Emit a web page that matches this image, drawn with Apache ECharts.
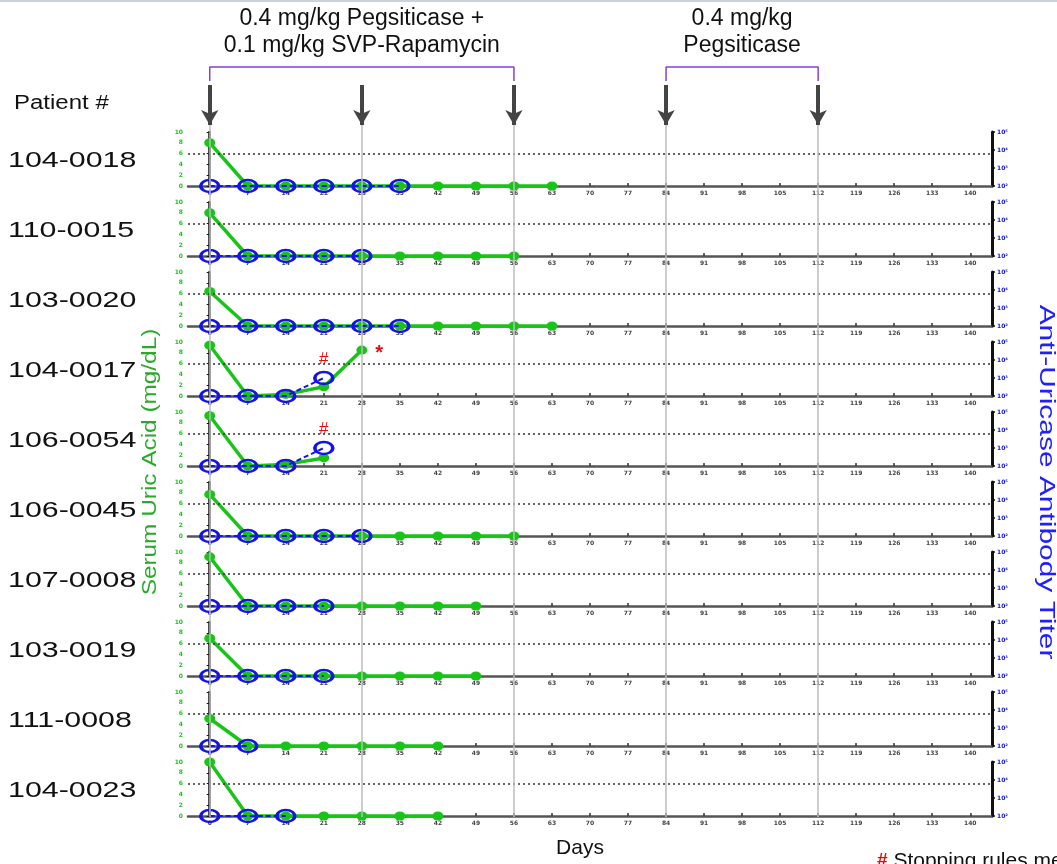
<!DOCTYPE html>
<html>
<head>
<meta charset="utf-8">
<script src="https://cdn.jsdelivr.net/npm/echarts@6/dist/echarts.min.js"></script>
<style>
  html, body { margin: 0; padding: 0; background: #fff; }
  #chart { width: 1057px; height: 864px; }
</style>
</head>
<body>
<div id="chart"></div>
<script>
// sampling days (every week)
const days = [0, 7, 14, 21, 28, 35, 42, 49, 56, 63];
const tickDays = [0, 7, 14, 21, 28, 35, 42, 49, 56, 63, 70, 77, 84, 91, 98, 105, 112, 119, 126, 133, 140];
const doseDays = [0, 28, 56, 84, 112];
const doseSpans = [[0, 56], [84, 112]];
const doseText = [["0.4 mg/kg Pegsiticase +", "0.1 mg/kg SVP-Rapamycin"], ["0.4 mg/kg", "Pegsiticase"]];

const patients = ["104-0018", "110-0015", "103-0020", "104-0017", "106-0054",
                  "106-0045", "107-0008", "103-0019", "111-0008", "104-0023"];

// serum uric acid, mg/dL, one value per week from day 0
const uricAcid = [
  [8.0, 0, 0, 0, 0, 0, 0, 0, 0, 0],
  [8.0, 0, 0, 0, 0, 0, 0, 0, 0],
  [6.4, 0, 0, 0, 0, 0, 0, 0, 0, 0],
  [9.4, 0, 0.3, 1.7, 8.5],
  [9.3, 0, 0.3, 1.5],
  [7.7, 0, 0, 0, 0, 0, 0, 0, 0],
  [9.1, 0, 0, 0, 0, 0, 0, 0],
  [7.0, 0, 0, 0, 0, 0, 0, 0],
  [5.1, 0, 0, 0, 0, 0, 0],
  [10.0, 0, 0, 0, 0, 0, 0]
];

// anti-uricase antibody titer, one value per week from day 0
const antibodyTiter = [
  [100, 100, 100, 100, 100, 100],
  [100, 100, 100, 100, 100],
  [100, 100, 100, 100, 100, 100],
  [100, 100, 100, 1000],
  [100, 100, 100, 1000],
  [100, 100, 100, 100, 100],
  [100, 100, 100, 100],
  [100, 100, 100, 100],
  [100, 100],
  [100, 100, 100]
];

// '#' = stopping rules met (on titer point), '*' on uric acid point
const stopFlags = [[3, 21], [4, 21]];
const starFlags = [[3, 28]];

const GREEN = "#19c419";
const BLUE = "#1414e6";
const supDigits = { 1: "\u00b9", 2: "\u00b2", 3: "\u00b3", 4: "\u2074", 5: "\u2075" };

const chart = echarts.init(document.getElementById("chart"));

const panelTop = 132, panelStep = 70, panelH = 54;
const gLeft = 188, gRight = 65;

const grid = [], xAxis = [], yAxis = [], series = [];

patients.forEach((p, i) => {
  grid.push({ left: gLeft, right: gRight, top: panelTop + panelStep * i, height: panelH });
  xAxis.push({
    gridIndex: i, type: "value", min: -4, max: 144,
    axisLine: { lineStyle: { color: "#555", width: 2.5 } },
    axisTick: { customValues: tickDays, inside: true, length: 3, lineStyle: { color: "#333", width: 1.5 } },
    axisLabel: { customValues: tickDays, fontSize: 6, fontWeight: "bold", color: "#444", margin: 4, fontFamily: "DejaVu Sans" },
    splitLine: { show: false }
  });
  yAxis.push({
    gridIndex: i, type: "value", min: 0, max: 10, interval: 2,
    axisLine: { show: true, lineStyle: { color: "#111", width: 2.5 } },
    axisTick: { show: true, length: 3, lineStyle: { color: "#111" } },
    axisLabel: { fontSize: 6, color: GREEN, margin: 5, fontWeight: "bold", fontFamily: "DejaVu Sans" },
    splitLine: { show: false }
  });
  yAxis.push({
    gridIndex: i, type: "log", logBase: 10, min: 100, max: 100000, position: "right",
    axisLine: { show: true, onZero: false, lineStyle: { color: "#111", width: 3 } },
    axisTick: { show: true, length: 3, lineStyle: { color: "#111", width: 1.5 } },
    minorTick: { show: true, splitNumber: 5, length: 2, lineStyle: { color: "#111" } },
    axisLabel: {
      fontSize: 6, color: BLUE, margin: 5, fontWeight: "bold", fontFamily: "DejaVu Sans",
      formatter: (v) => "10" + supDigits[Math.round(Math.log10(v))]
    },
    splitLine: { show: false }
  });

  const ua = uricAcid[i].map((v, k) => {
    const item = { value: [days[k], v] };
    if (starFlags.some((f) => f[0] === i && f[1] === days[k])) {
      item.label = { show: true, formatter: "*", position: "right", color: "#e01010", fontSize: 20, fontWeight: "bold", distance: 8, offset: [0, 3] };
    }
    return item;
  });
  const ab = antibodyTiter[i].map((v, k) => {
    const item = { value: [days[k], v] };
    if (stopFlags.some((f) => f[0] === i && f[1] === days[k])) {
      item.label = { show: true, formatter: "#", position: "top", color: "#e01010", fontSize: 17, distance: 3 };
    }
    return item;
  });

  series.push({
    type: "line", xAxisIndex: i, yAxisIndex: 2 * i, data: ua, z: 3,
    symbol: "circle", symbolSize: [11, 9],
    itemStyle: { color: GREEN },
    lineStyle: { color: GREEN, width: 3.5 },
    label: { show: false },
    markLine: {
      silent: true, symbol: "none", animation: false,
      lineStyle: { color: "#333", type: [2, 3], width: 1.5 },
      label: { show: false },
      data: [{ yAxis: 6 }]
    },
    animation: false
  });
  series.push({
    type: "line", xAxisIndex: i, yAxisIndex: 2 * i + 1, data: ab, z: 4,
    symbol: "circle", symbolSize: [18, 12],
    itemStyle: { color: "rgba(0,0,0,0)", borderColor: BLUE, borderWidth: 3 },
    lineStyle: { color: BLUE, width: 2, type: [5, 3] },
    label: { show: false },
    animation: false
  });
});

// overlay grid for dose arrows, brackets and vertical dose lines
const ov = patients.length;
const ovTop = 60, ovBottom = 817;
grid.push({ left: gLeft, right: gRight, top: ovTop, height: ovBottom - ovTop });
xAxis.push({ gridIndex: ov, type: "value", min: -4, max: 144, show: false });
yAxis.push({ gridIndex: ov, type: "value", min: 0, max: ovBottom - ovTop, inverse: true, show: false });

doseSpans.forEach((s) => {
  series.push({
    type: "line", xAxisIndex: ov, yAxisIndex: 2 * ov, z: 1, silent: true, animation: false,
    symbol: "none", lineStyle: { color: "#8a3fd0", width: 1.5 },
    data: [[s[0], 21], [s[0], 7], [s[1], 7], [s[1], 21]]
  });
});
series.push({
  type: "line", xAxisIndex: ov, yAxisIndex: 2 * ov, z: 1, silent: true, animation: false,
  data: [], symbol: "none",
  markLine: {
    silent: true, animation: false, symbol: "none", label: { show: false },
    lineStyle: { color: "#bdbdbd", width: 1.5, type: "solid" },
    data: doseDays.map((d) => [{ coord: [d, 40] }, { coord: [d, ovBottom - ovTop] }])
  }
});
series.push({
  type: "line", xAxisIndex: ov, yAxisIndex: 2 * ov, z: 2, silent: true, animation: false,
  data: [], symbol: "none",
  markLine: {
    silent: true, animation: false, symbol: ["none", "arrow"], symbolSize: [13, 15], label: { show: false },
    lineStyle: { color: "#444", width: 4, type: "solid" },
    data: doseDays.map((d) => [{ coord: [d, 25] }, { coord: [d, 65] }])
  }
});

const graphic = [
  { type: "rect", left: 0, top: 0, shape: { width: 1057, height: 2 }, style: { fill: "#c9d3de" } },
  { type: "text", x: 14, y: 103, scaleX: 1.2, style: { text: "Patient #", font: "20px 'Liberation Sans', Arial", fill: "#111", verticalAlign: "middle" } },
  { type: "text", x: 580, y: 848, style: { text: "Days", font: "21px 'Liberation Sans', Arial", fill: "#111", align: "center", verticalAlign: "middle" } },
  { type: "text", x: 877, y: 861, style: { text: "{r|#} Stopping rules met", rich: { r: { fill: "#e01010", font: "bold 19px 'Liberation Sans'" } }, font: "21px 'Liberation Sans', Arial", fill: "#111", verticalAlign: "middle" } },
  { type: "text", x: 150, y: 462, rotation: Math.PI / 2, scaleX: 1.16, style: { text: "Serum Uric Acid (mg/dL)", font: "21px 'Liberation Sans', Arial", fill: "#2aaa2a", align: "center", verticalAlign: "middle" } },
  { type: "text", x: 1046, y: 482, rotation: -Math.PI / 2, scaleX: 1.36, style: { text: "Anti-Uricase Antibody Titer", font: "22px 'Liberation Sans', Arial", fill: "#2020ff", align: "center", verticalAlign: "middle" } }
];
patients.forEach((p, i) => {
  graphic.push({ type: "text", x: 8, y: panelTop + panelStep * i + panelH / 2 + 2, scaleX: 1.38, style: { text: p, font: "22px 'Liberation Sans', Arial", fill: "#111", verticalAlign: "middle" } });
});
const pxPerDay = (1057 - gRight - gLeft) / 148;
doseSpans.forEach((s, j) => {
  const cx = gLeft + ((s[0] + s[1]) / 2 + 4) * pxPerDay;
  doseText[j].forEach((t, k) => {
    graphic.push({ type: "text", x: cx, y: 19 + 27 * k, style: { text: t, font: "23px 'Liberation Sans', Arial", fill: "#111", align: "center", verticalAlign: "middle" } });
  });
});

chart.setOption({ animation: false, grid, xAxis, yAxis, series, graphic });
</script>
</body>
</html>
